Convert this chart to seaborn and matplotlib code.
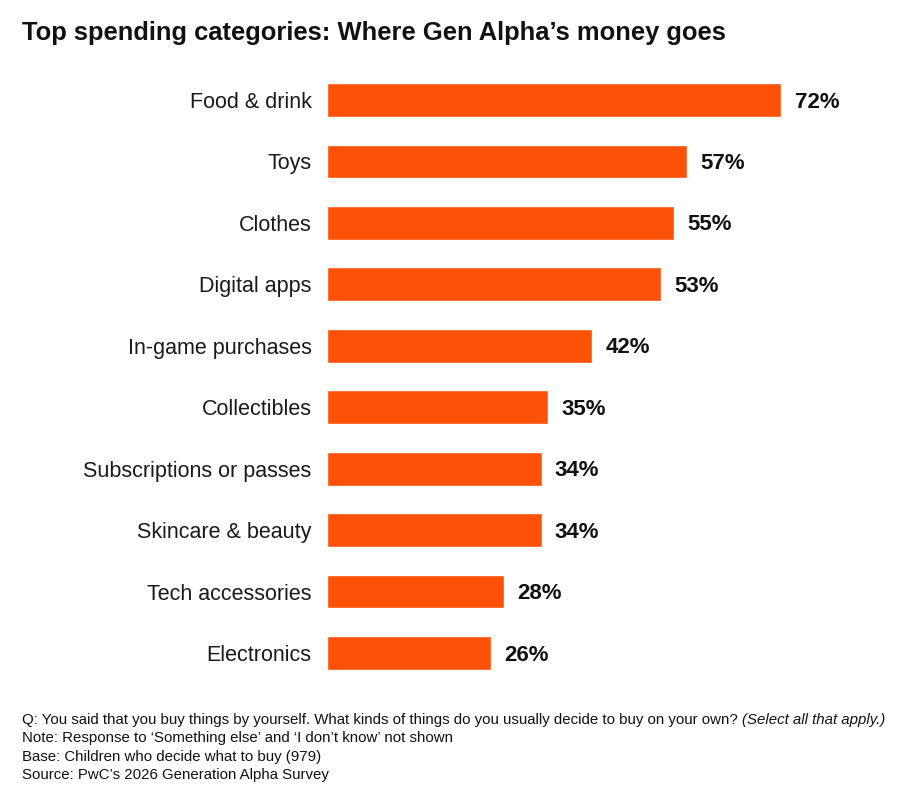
import matplotlib
matplotlib.use("Agg")
import matplotlib.pyplot as plt
import seaborn as sns
import pandas as pd

# Data
categories = ["Food & drink", "Toys", "Clothes", "Digital apps", "In-game purchases",
              "Collectibles", "Subscriptions or passes", "Skincare & beauty",
              "Tech accessories", "Electronics"]
shares = [72, 57, 55, 53, 42, 35, 34, 34, 28, 26]

title = "Top spending categories: Where Gen Alpha\u2019s money goes"
notes = [
    "Note: Response to \u2018Something else\u2019 and \u2018I don\u2019t know\u2019 not shown",
    "Base: Children who decide what to buy (979)",
    "Source: PwC\u2019s 2026 Generation Alpha Survey",
]
question = "Q: You said that you buy things by yourself. What kinds of things do you usually decide to buy on your own? "
question_italic = "(Select all that apply.)"

df = pd.DataFrame({"category": categories, "share": shares})

sns.set_style("white")
plt.rcParams["font.family"] = ["Liberation Sans", "DejaVu Sans"]

fig = plt.figure(figsize=(9.2, 8), dpi=100)
ax = fig.add_axes([327 / 920, 1 - 683.7 / 800, (900 - 327) / 920, (683.7 - 69.3) / 800])

sns.barplot(data=df, x="share", y="category", color="#FD5108", width=0.55,
            saturation=1, ax=ax)

ax.set_xlim(0, (900 - 327) / 6.31)
ax.set_ylim(len(categories) - 0.5, -0.5)
ax.set_xlabel("")
ax.set_ylabel("")
ax.set_xticks([])
ax.tick_params(axis="y", length=0, pad=11, labelsize=15.5, labelcolor="#1a1a1a")
sns.despine(ax=ax, left=True, bottom=True)

for i, v in enumerate(shares):
    ax.annotate(f"{v}%", xy=(v, i), xytext=(9.5, -1.5), textcoords="offset points",
                va="center", ha="left", fontsize=16, fontweight="bold", color="#111111")

fig.text(22 / 920, 1 - 33 / 800, title, fontsize=18.4, fontweight="bold",
         va="center", ha="left", color="#111111")

y0 = 1 - 720 / 800
step = 18.3 / 800
t = fig.text(22 / 920, y0, question, fontsize=10.8, va="center", ha="left", color="#111111")
fig.canvas.draw()
bb = t.get_window_extent()
fig.text(bb.x1 / fig.bbox.width, y0, question_italic, fontsize=10.8, style="italic",
         va="center", ha="left", color="#111111")
for k, line in enumerate(notes):
    fig.text(22 / 920, y0 - (k + 1) * step, line, fontsize=10.8, va="center",
             ha="left", color="#111111")

fig.savefig("out.png", dpi=100, facecolor="white")
